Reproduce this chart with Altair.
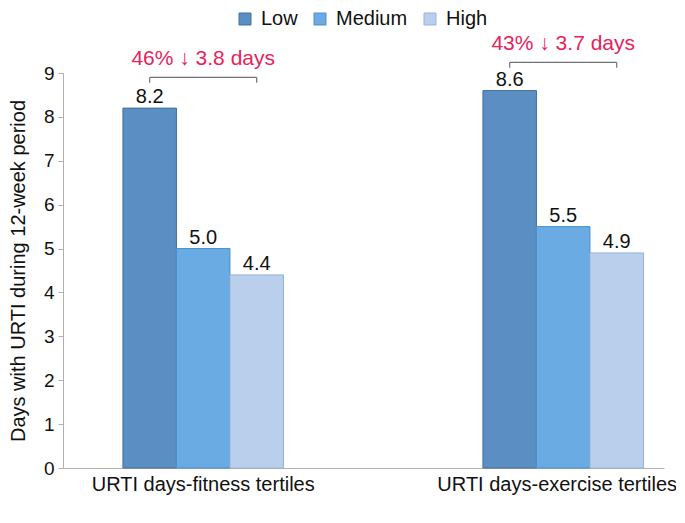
import altair as alt
import pandas as pd

groups = ["URTI days-fitness tertiles", "URTI days-exercise tertiles"]
tertiles = ["Low", "Medium", "High"]
fitness_values = [8.2, 5.0, 4.4]
exercise_values = [8.6, 5.5, 4.9]
annotations = ["46% \u2193 3.8 days", "43% \u2193 3.7 days"]
annotation_y = [9.31, 9.67]
bracket_y = [8.9, 9.24]
bracket_tick = 0.12
y_ticks = [0, 1, 2, 3, 4, 5, 6, 7, 8, 9]

fill_colors = ["#5b8fc3", "#69abe2", "#b9cfeb"]
stroke_colors = ["#41719f", "#4c8fcb", "#95b3da"]
FONT = "Liberation Sans"

rows = []
for g, vals in zip(groups, [fitness_values, exercise_values]):
    for t, v in zip(tertiles, vals):
        rows.append({"group": g, "tertile": t, "value": v, "label": f"{v:.1f}"})
bars_df = pd.DataFrame(rows)

ann_df = pd.DataFrame({"group": groups, "text": annotations, "y": annotation_y})

br_rows = []
for g, by in zip(groups, bracket_y):
    for t in [tertiles[0], tertiles[-1]]:
        br_rows.append({"group": g, "tertile": t, "y": by, "y2": by - bracket_tick})
br_df = pd.DataFrame(br_rows)

x_scale = alt.Scale(paddingInner=0.554, paddingOuter=0.1117, align=0.745)
x_axis = alt.Axis(
    title=None, labelAngle=0, ticks=False, labelFontSize=20,
    labelColor="#111111", domainColor="#b0b0b0", labelPadding=6,
    labelLimit=400, labelBound=False,
    labelOffset={"condition": {"test": f"datum.value === '{groups[1]}'", "value": -6},
                 "value": 0},
)
x_enc = alt.X("group:N", sort=groups, scale=x_scale, axis=x_axis)
xo_enc = alt.XOffset("tertile:N", sort=tertiles,
                     scale=alt.Scale(paddingInner=0, paddingOuter=0))
y_scale = alt.Scale(domain=[0, 9], nice=False)
y_axis = alt.Axis(values=y_ticks, title="Days with URTI during 12-week period",
                  titleFontSize=20, titleFontWeight="normal", titleColor="#111111",
                  labelFontSize=19, labelColor="#111111", tickSize=5,
                  tickColor="#b0b0b0", domainColor="#b0b0b0", grid=False,
                  labelPadding=4, titlePadding=15, titleLimit=500)

legend = alt.Legend(orient="none", legendX=172, legendY=-64, direction="horizontal",
                    title=None, labelFontSize=20, labelColor="#111111",
                    symbolType="square", symbolSize=144, columnPadding=12,
                    labelOffset=6, padding=0, symbolStrokeWidth=1)

bars = alt.Chart(bars_df).mark_bar(strokeWidth=1).encode(
    x=x_enc,
    xOffset=xo_enc,
    y=alt.Y("value:Q", scale=y_scale, axis=y_axis),
    fill=alt.Fill("tertile:N", sort=tertiles,
                  scale=alt.Scale(domain=tertiles, range=fill_colors), legend=legend),
    stroke=alt.Stroke("tertile:N", sort=tertiles,
                      scale=alt.Scale(domain=tertiles, range=stroke_colors), legend=legend),
)

labels = alt.Chart(bars_df).mark_text(fontSize=20, color="#111111", baseline="alphabetic",
                                      dy=-5, font=FONT).encode(
    x=x_enc, xOffset=xo_enc, y=alt.Y("value:Q", scale=y_scale), text="label:N"
)

br_line = alt.Chart(br_df).mark_line(color="#707070", strokeWidth=1.2).encode(
    x=x_enc, xOffset=xo_enc, y=alt.Y("y:Q", scale=y_scale), detail="group:N"
)
br_ticks = alt.Chart(br_df).mark_rule(color="#707070", strokeWidth=1.2).encode(
    x=x_enc, xOffset=xo_enc, y=alt.Y("y:Q", scale=y_scale), y2="y2:Q"
)

ann = alt.Chart(ann_df).mark_text(fontSize=21, color="#e8225a", baseline="middle",
                                  font=FONT).encode(
    x=x_enc, y=alt.Y("y:Q", scale=y_scale), text="text:N"
)

chart = alt.layer(bars, labels, br_line, br_ticks, ann).properties(
    width=601, height=395,
    autosize=alt.AutoSizeParams(type="none"),
    padding={"left": 55, "top": 65, "right": 12, "bottom": 40},
).configure(font=FONT).configure_view(stroke=None)

chart.save("out.html", embed_options={"renderer": "svg", "actions": False})
